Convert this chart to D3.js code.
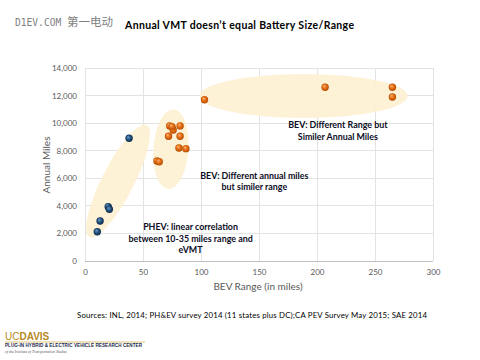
<!DOCTYPE html>
<html><head><meta charset="utf-8">
<script src="https://cdn.jsdelivr.net/npm/d3@7"></script>
<style>html,body{margin:0;padding:0;background:#fff;}svg{display:block;}</style>
</head><body>
<script>
// ---- data ----
const phevRange = [38, 20, 21, 13, 10.6];
const phevMiles = [8900, 3940, 3750, 2900, 2120];
const bevRange = [62, 64, 73, 76, 82, 72, 82, 81, 87, 103, 207, 265, 265, 75];
const bevMiles = [7250, 7200, 9800, 9500, 9800, 9050, 9050, 8200, 8150, 11700, 12600, 12600, 11900, 9750];
const xTicks = [0, 50, 100, 150, 200, 250, 300];
const yTicks = [0, 2000, 4000, 6000, 8000, 10000, 12000, 14000];
// highlight ellipses: centre in data units
const ellCx = [28.5, 74.1, 188.5];
const ellCy = [5800, 8120, 11970];
const notes = [
  {lines: ["PHEV:  linear correlation", "between 10-35 miles range and", "eVMT"], x: 91, y: 2230},
  {lines: ["BEV:  Different annual miles", "but similer range"], x: 146, y: 5980},
  {lines: ["BEV: Different Range but", "Similer  Annual Miles"], x: 218, y: 9650}
];

const W = 480, H = 360;
const svg = d3.select("body").append("svg").attr("width", W).attr("height", H);
const defs = svg.append("defs");
function sphere(id, hi, mid, lo) {
  const g = defs.append("radialGradient").attr("id", id)
    .attr("cx", "50%").attr("cy", "50%").attr("r", "55%").attr("fx", "35%").attr("fy", "30%");
  g.append("stop").attr("offset", "0%").attr("stop-color", hi);
  g.append("stop").attr("offset", "55%").attr("stop-color", mid);
  g.append("stop").attr("offset", "100%").attr("stop-color", lo);
}
sphere("gBlue", "#6f9bd0", "#1f4e79", "#0b2440");
sphere("gOrange", "#fbb477", "#e2690f", "#a84700");

const x = d3.scaleLinear().domain([0, 300]).range([85, 433]);
const y = d3.scaleLinear().domain([0, 14000]).range([261, 68]);

// header
const hd = svg.append("text").attr("x", 15).attr("y", 26).attr("fill", "#7f7f7f");
hd.append("tspan").attr("font-family", "DejaVu Sans Mono").attr("font-size", 9.6).text("D1EV.COM ");
hd.append("tspan").attr("font-family", "Noto Sans CJK SC").attr("font-size", 11.5).text("第一电动");
svg.append("text").attr("x", 125).attr("y", 28.5).attr("font-family", "Lato, Liberation Sans, sans-serif")
  .attr("font-weight", "bold").attr("font-size", 10.5).attr("fill", "#000")
  .attr("textLength", 229).text("Annual VMT doesn’t equal Battery Size/Range");

// grid
const grid = svg.append("g");
grid.selectAll("line.h").data(yTicks).join("line")
  .attr("x1", x(0)).attr("x2", x(300)).attr("y1", d => y(d)).attr("y2", d => y(d))
  .attr("stroke", d => d === 0 ? "#bfbfbf" : "#e3e3e3").attr("stroke-width", 1).attr("shape-rendering", "crispEdges");
grid.selectAll("line.v").data(xTicks).join("line")
  .attr("y1", y(0)).attr("y2", y(14000)).attr("x1", d => x(d)).attr("x2", d => x(d))
  .attr("stroke", "#e3e3e3").attr("stroke-width", 1).attr("shape-rendering", "crispEdges");

// axes (labels only)
const yAx = svg.append("g").attr("transform", `translate(${x(0)},0)`)
  .call(d3.axisLeft(y).tickValues(yTicks).tickFormat(d3.format(",")).tickSize(0).tickPadding(8));
const xAx = svg.append("g").attr("transform", `translate(0,${y(0)})`)
  .call(d3.axisBottom(x).tickValues(xTicks).tickSize(0).tickPadding(8));
[xAx, yAx].forEach(a => {
  a.select(".domain").remove();
  a.selectAll("text").attr("font-family", "Lato, Liberation Sans, sans-serif").attr("font-size", 8).attr("fill", "#595959");
});

svg.append("text").attr("transform", `translate(50,165) rotate(-90)`).attr("text-anchor", "middle")
  .attr("font-family", "Lato, Liberation Sans, sans-serif").attr("font-size", 10).attr("fill", "#595959").text("Annual Miles");
svg.append("text").attr("x", 258).attr("y", 290).attr("text-anchor", "middle")
  .attr("font-family", "Lato, Liberation Sans, sans-serif").attr("font-size", 10).attr("fill", "#595959").text("BEV Range (in miles)");

// ellipses
const ellRx = [63, 17.5, 104], ellRy = [16, 40, 22], ellRot = [-63, 4, 0];
svg.append("g").selectAll("ellipse").data(ellCx).join("ellipse")
  .attr("transform", (d, i) => `translate(${x(d)},${y(ellCy[i])}) rotate(${ellRot[i]})`)
  .attr("rx", (d, i) => ellRx[i]).attr("ry", (d, i) => ellRy[i])
  .attr("fill", "#fdefd2").attr("opacity", 0.9);

// points
svg.append("g").selectAll("circle").data(phevRange).join("circle")
  .attr("cx", d => x(d)).attr("cy", (d, i) => y(phevMiles[i])).attr("r", 3.7).attr("fill", "url(#gBlue)");
svg.append("g").selectAll("circle").data(bevRange).join("circle")
  .attr("cx", d => x(d)).attr("cy", (d, i) => y(bevMiles[i])).attr("r", 3.7).attr("fill", "url(#gOrange)");

// annotations
const nl = svg.append("g").attr("font-family", "Lato, Liberation Sans, sans-serif").attr("font-weight", "bold")
  .attr("font-size", 8.9).attr("fill", "#0c0c24").attr("text-anchor", "middle");
notes.forEach(n => {
  n.lines.forEach((t, j) => {
    nl.append("text").attr("x", x(n.x)).attr("y", y(n.y) + j * 11.6).text(t);
  });
});

// sources
svg.append("text").attr("x", 77).attr("y", 318).attr("font-family", "Lato, Liberation Sans, sans-serif")
  .attr("font-size", 7.8).attr("fill", "#000").attr("textLength", 350)
  .text("Sources: INL, 2014; PH&EV survey 2014 (11 states plus DC);CA PEV Survey May 2015; SAE 2014");

// logo
const lg = svg.append("g");
const lt = lg.append("text").attr("x", 5).attr("y", 340).attr("font-family", "Liberation Sans, sans-serif")
  .attr("font-weight", "bold").attr("font-size", 10);
lt.append("tspan").attr("fill", "#b8891e").attr("font-weight", "normal").text("UC");
lt.append("tspan").attr("fill", "#b8891e").text("DAVIS");
lg.append("line").attr("x1", 5).attr("x2", 145).attr("y1", 342).attr("y2", 342).attr("stroke", "#d8b45c").attr("stroke-width", 0.8);
lg.append("text").attr("x", 5).attr("y", 347).attr("font-family", "Liberation Sans, sans-serif").attr("font-weight", "bold")
  .attr("font-size", 4.6).attr("fill", "#1c2a4a").attr("textLength", 137).text("PLUG-IN HYBRID & ELECTRIC VEHICLE RESEARCH CENTER");
lg.append("text").attr("x", 5).attr("y", 353).attr("font-family", "Liberation Serif, serif").attr("font-style", "italic")
  .attr("font-size", 3.8).attr("fill", "#555").attr("textLength", 62).text("of the Institute of Transportation Studies");
</script>
</body></html>
